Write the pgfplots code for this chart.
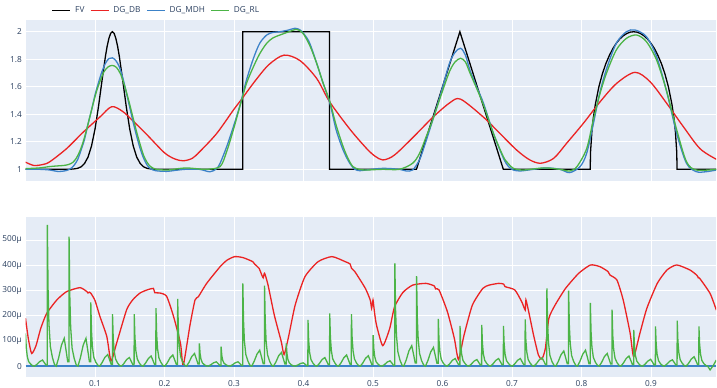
\documentclass[border=0pt]{standalone}
\usepackage{fontspec}
\setmainfont{Open Sans}
\usepackage{pgfplots}
\pgfplotsset{compat=1.18}
\usepackage{pgfplotstable}
\definecolor{bgc}{HTML}{E5ECF6}
\definecolor{tickc}{HTML}{2A3F5F}
\definecolor{cred}{RGB}{235,35,35}
\definecolor{cblue}{RGB}{60,130,200}
\definecolor{cgreen}{RGB}{75,180,70}

\pgfplotstableread{
x y
0 1
0.06 1
0.065 1.001
0.07 1.003
0.075 1.007
0.08 1.018
0.085 1.043
0.09 1.089
0.095 1.170
0.10 1.292
0.105 1.455
0.11 1.642
0.115 1.821
0.1175 1.895
0.12 1.952
0.1225 1.988
0.125 2.0
0.1275 1.988
0.13 1.952
0.1325 1.895
0.135 1.821
0.14 1.642
0.145 1.455
0.15 1.292
0.155 1.170
0.16 1.089
0.165 1.043
0.17 1.018
0.175 1.007
0.18 1.003
0.185 1.001
0.19 1
0.3125 1
0.3125 2
0.4375 2
0.4375 1
0.5625 1
0.625 2
0.6875 1
0.8125 1
0.813 1.126
0.815 1.28
0.817 1.373
0.82 1.475
0.825 1.6
0.83 1.694
0.835 1.768
0.84 1.827
0.845 1.877
0.85 1.916
0.855 1.947
0.86 1.970
0.865 1.987
0.87 1.997
0.875 2
0.88 1.997
0.885 1.987
0.89 1.970
0.895 1.947
0.9 1.916
0.905 1.877
0.91 1.827
0.915 1.768
0.92 1.694
0.925 1.6
0.93 1.475
0.933 1.373
0.935 1.28
0.937 1.126
0.9375 1
0.994 1
}\fv

\pgfplotstableread{
x y
0 1.052
0.012 1.028
0.025 1.035
0.035 1.055
0.059 1.15
0.083 1.27
0.107 1.38
0.124 1.455
0.14 1.42
0.155 1.35
0.175 1.25
0.20 1.12
0.215 1.075
0.227 1.062
0.24 1.08
0.251 1.13
0.275 1.26
0.299 1.43
0.311 1.51
0.33 1.64
0.35 1.76
0.372 1.83
0.395 1.79
0.419 1.66
0.4377 1.49
0.467 1.29
0.491 1.15
0.503 1.095
0.514 1.068
0.527 1.09
0.539 1.14
0.563 1.26
0.5865 1.38
0.6106 1.484
0.626 1.51
0.6587 1.38
0.6827 1.26
0.7067 1.14
0.725 1.07
0.741 1.044
0.76 1.08
0.7787 1.19
0.8026 1.334
0.8266 1.49
0.8506 1.625
0.877 1.705
0.8986 1.637
0.9225 1.48
0.9465 1.31
0.9705 1.15
0.994 1.073
}\dgdb

\pgfplotstableread{
x y
0 1.0
0.02 1.0
0.035 0.995
0.047 0.984
0.058 0.99
0.065 1.005
0.07 1.03
0.075 1.07
0.08 1.14
0.085 1.22
0.09 1.33
0.095 1.43
0.10 1.54
0.105 1.63
0.11 1.71
0.115 1.77
0.12 1.805
0.125 1.81
0.13 1.79
0.135 1.745
0.14 1.665
0.145 1.56
0.15 1.45
0.155 1.34
0.16 1.24
0.165 1.15
0.17 1.08
0.175 1.03
0.18 1.005
0.187 0.99
0.203 0.985
0.215 0.992
0.23 1.0
0.25 1.0
0.2655 0.982
0.275 1.005
0.28 1.044
0.2895 1.165
0.2991 1.31
0.3087 1.467
0.318 1.65
0.328 1.807
0.337 1.916
0.347 1.976
0.356 1.995
0.366 2.0
0.378 2.012
0.3877 2.025
0.395 2.013
0.402 1.975
0.409 1.916
0.419 1.77
0.4283 1.625
0.438 1.48
0.447 1.286
0.457 1.14
0.4665 1.044
0.474 1.0
0.481 0.99
0.49 0.995
0.514 1.007
0.538 1.0
0.5475 0.988
0.557 0.995
0.567 1.07
0.576 1.2
0.586 1.36
0.598 1.56
0.61 1.77
0.618 1.85
0.626 1.88
0.633 1.83
0.6395 1.72
0.649 1.60
0.659 1.48
0.6733 1.26
0.6877 1.08
0.695 1.02
0.702 0.995
0.712 0.988
0.731 1.0
0.75 1.01
0.769 1.0
0.783 0.976
0.798 1.02
0.8074 1.116
0.817 1.33
0.826 1.55
0.836 1.73
0.85 1.916
0.8646 2.0
0.877 2.013
0.8934 1.964
0.908 1.82
0.922 1.576
0.937 1.26
0.951 1.044
0.965 0.983
0.98 0.983
0.994 0.995
}\dgmdh

\pgfplotstableread{
x y
0 1.005
0.02 1.01
0.035 1.02
0.047 1.025
0.055 1.028
0.062 1.035
0.068 1.05
0.073 1.08
0.078 1.13
0.083 1.20
0.088 1.29
0.093 1.39
0.098 1.49
0.103 1.58
0.108 1.65
0.113 1.71
0.119 1.745
0.125 1.755
0.131 1.74
0.137 1.69
0.143 1.60
0.149 1.49
0.155 1.37
0.16 1.27
0.165 1.18
0.17 1.10
0.175 1.05
0.18 1.02
0.188 1.0
0.205 0.995
0.22 1.005
0.232 1.01
0.245 1.005
0.26 1.0
0.28 1.02
0.2895 1.13
0.299 1.286
0.309 1.467
0.318 1.625
0.328 1.746
0.337 1.84
0.347 1.916
0.356 1.955
0.366 1.976
0.378 1.998
0.39 2.017
0.399 1.99
0.409 1.90
0.419 1.77
0.428 1.63
0.438 1.49
0.447 1.32
0.457 1.165
0.464 1.08
0.471 1.02
0.48 1.0
0.49 0.995
0.514 1.0
0.538 1.0
0.557 1.044
0.567 1.116
0.576 1.23
0.586 1.36
0.598 1.54
0.61 1.71
0.618 1.78
0.626 1.807
0.633 1.78
0.6395 1.70
0.649 1.59
0.659 1.467
0.6733 1.26
0.6877 1.09
0.695 1.04
0.702 1.007
0.716 0.995
0.746 1.01
0.769 1.0
0.783 0.988
0.7935 1.02
0.8074 1.15
0.817 1.36
0.826 1.54
0.836 1.70
0.85 1.867
0.8646 1.952
0.8794 1.976
0.8934 1.928
0.908 1.795
0.922 1.576
0.937 1.286
0.951 1.056
0.965 0.995
0.994 1.0
}\dgrl

\pgfplotstableread{
x y
0 190
0.004 110
0.0088 50
0.015 80
0.022 150
0.0305 209
0.045 262
0.059 295
0.0783 311
0.088 296
0.09 290
0.092 293
0.094 289
0.1 260
0.1072 196
0.117 117
0.123 20
0.131 90
0.1456 224
0.155 265
0.165 290
0.175 302
0.184 308
0.186 291
0.193 290
0.203 277
0.213 197
0.223 90
0.227 4
0.2367 163
0.2439 262
0.2487 275
0.2607 328
0.28 394
0.29 420
0.301 434
0.313 430
0.327 414
0.3302 403
0.336 388
0.34 361
0.342 350
0.344 368
0.349 321
0.358 202
0.368 97
0.372 46
0.378 110
0.388 242
0.402 354
0.421 414
0.441 434
0.46 414
0.467 405
0.469 388
0.474 374
0.489 308
0.496 262
0.498 229
0.5 262
0.502 216
0.505 163
0.514 81
0.524 149
0.531 235
0.543 292
0.557 321
0.576 328
0.588 318
0.59 306
0.595 302
0.607 216
0.617 110
0.623 26
0.631 123
0.643 242
0.658 308
0.667 321
0.681 328
0.688 325
0.69 315
0.704 302
0.714 255
0.719 222
0.72 262
0.724 216
0.731 123
0.738 44
0.743 28
0.748 70
0.753 189
0.762 242
0.777 308
0.796 368
0.813 401
0.8266 394
0.838 375
0.841 361
0.851 341
0.86 262
0.87 130
0.875 37
0.884 130
0.894 229
0.909 328
0.923 381
0.937 401
0.956 381
0.966 360
0.968 350
0.97 348
0.985 288
0.994 222
}\errdb

\pgfplotstableread{
x y
0 0
0.994 0
}\errmdh

\pgfplotstableread{
x y
0 130
0.0012 72
0.0025 39
0.0045 18
0.0075 8
0.0105 1
0.013 0
0.0165 7
0.0205 18
0.0245 24
0.0275 12
0.0295 4
0.03125 4
0.03145 560
0.03245 308
0.03375 168
0.03575 78
0.03875 34
0.04175 6
0.04425 0
0.04775 33
0.05175 83
0.05575 110
0.05875 55
0.06075 17
0.0625 17
0.0627 513
0.0637 282
0.065 154
0.067 72
0.07 31
0.073 5
0.0755 0
0.079 33
0.083 83
0.087 110
0.09 55
0.092 17
0.09375 17
0.09395 253
0.09495 139
0.09625 76
0.09825 35
0.10125 15
0.10425 3
0.10675 0
0.11025 14
0.11425 35
0.11825 46
0.12125 23
0.12325 7
0.125 7
0.1252 206
0.1262 113
0.1275 62
0.1295 29
0.1325 12
0.1355 2
0.138 0
0.1415 10
0.1455 26
0.1495 34
0.1525 17
0.1545 5
0.15625 5
0.15645 206
0.15745 113
0.15875 62
0.16075 29
0.16375 12
0.16675 2
0.16925 0
0.17275 12
0.17675 30
0.18075 40
0.18375 20
0.18575 6
0.1875 6
0.1877 230
0.1887 127
0.19 69
0.192 32
0.195 14
0.198 2
0.2005 0
0.204 13
0.208 33
0.212 44
0.215 22
0.217 7
0.21875 7
0.21895 266
0.21995 146
0.22125 80
0.22325 37
0.22625 16
0.22925 3
0.23175 0
0.23525 15
0.23925 38
0.24325 50
0.24625 25
0.24825 8
0.25 8
0.2502 90
0.2512 50
0.2525 27
0.2545 13
0.2575 5
0.2605 1
0.263 0
0.2665 5
0.2705 13
0.2745 17
0.2775 9
0.2795 3
0.28125 3
0.28145 77
0.28245 42
0.28375 23
0.28575 11
0.28875 5
0.29175 1
0.29425 0
0.29775 5
0.30175 13
0.30575 17
0.30875 9
0.31075 3
0.3125 3
0.3127 328
0.3137 180
0.315 98
0.317 46
0.32 20
0.323 3
0.3255 0
0.329 19
0.333 47
0.337 63
0.34 32
0.342 9
0.34375 9
0.34395 319
0.34495 175
0.34625 96
0.34825 45
0.35125 19
0.35425 3
0.35675 0
0.36025 16
0.36425 41
0.36825 54
0.37125 27
0.37325 8
0.375 8
0.3752 90
0.3762 50
0.3775 27
0.3795 13
0.3825 5
0.3855 1
0.388 0
0.3915 4
0.3955 10
0.3995 13
0.4025 7
0.4045 2
0.40625 2
0.40645 183
0.40745 101
0.40875 55
0.41075 26
0.41375 11
0.41675 2
0.41925 0
0.42275 10
0.42675 26
0.43075 34
0.43375 17
0.43575 5
0.4375 5
0.4377 209
0.4387 115
0.44 63
0.442 29
0.445 13
0.448 2
0.4505 0
0.454 13
0.458 33
0.462 44
0.465 22
0.467 7
0.46875 7
0.46895 206
0.46995 113
0.47125 62
0.47325 29
0.47625 12
0.47925 2
0.48175 0
0.48525 12
0.48925 31
0.49325 41
0.49625 21
0.49825 6
0.5 6
0.5002 123
0.5012 68
0.5025 37
0.5045 17
0.5075 7
0.5105 1
0.513 0
0.5165 6
0.5205 16
0.5245 21
0.5275 11
0.5295 3
0.53125 3
0.53145 407
0.53245 224
0.53375 122
0.53575 57
0.53875 24
0.54175 4
0.54425 0
0.54775 24
0.55175 61
0.55575 81
0.55875 41
0.56075 12
0.5625 12
0.5627 357
0.5637 196
0.565 107
0.567 50
0.57 21
0.573 4
0.5755 0
0.579 22
0.583 56
0.587 74
0.59 37
0.592 11
0.59375 11
0.59395 187
0.59495 103
0.59625 56
0.59825 26
0.60125 11
0.60425 2
0.60675 0
0.61025 9
0.61425 23
0.61825 30
0.62125 15
0.62325 5
0.625 5
0.6252 159
0.6262 87
0.6275 48
0.6295 22
0.6325 10
0.6355 2
0.638 0
0.6415 8
0.6455 20
0.6495 26
0.6525 13
0.6545 4
0.65625 4
0.65645 163
0.65745 90
0.65875 49
0.66075 23
0.66375 10
0.66675 2
0.66925 0
0.67275 9
0.67675 23
0.68075 30
0.68375 15
0.68575 5
0.6875 5
0.6877 159
0.6887 87
0.69 48
0.692 22
0.695 10
0.698 2
0.7005 0
0.704 9
0.708 23
0.712 30
0.715 15
0.717 5
0.71875 5
0.71895 185
0.71995 102
0.72125 56
0.72325 26
0.72625 11
0.72925 2
0.73175 0
0.73525 10
0.73925 25
0.74325 33
0.74625 17
0.74825 5
0.75 5
0.7502 308
0.7512 169
0.7525 92
0.7545 43
0.7575 18
0.7605 3
0.763 0
0.7665 18
0.7705 45
0.7745 60
0.7775 30
0.7795 9
0.78125 9
0.78145 299
0.78245 164
0.78375 90
0.78575 42
0.78875 18
0.79175 3
0.79425 0
0.79775 19
0.80175 47
0.80575 63
0.80875 32
0.81075 9
0.8125 9
0.8127 251
0.8137 138
0.815 75
0.817 35
0.82 15
0.823 3
0.8255 0
0.829 15
0.833 38
0.837 50
0.84 25
0.842 8
0.84375 8
0.84395 224
0.84495 123
0.84625 67
0.84825 31
0.85125 13
0.85425 2
0.85675 0
0.86025 12
0.86425 30
0.86825 40
0.87125 20
0.87325 6
0.875 6
0.8752 144
0.8762 79
0.8775 43
0.8795 20
0.8825 9
0.8855 1
0.888 0
0.8915 8
0.8955 20
0.8995 27
0.9025 14
0.9045 4
0.90625 4
0.90645 157
0.90745 86
0.90875 47
0.91075 22
0.91375 9
0.91675 2
0.91925 0
0.92275 8
0.92675 19
0.93075 25
0.93375 13
0.93575 4
0.9375 4
0.9377 180
0.9387 99
0.94 54
0.942 25
0.945 11
0.948 2
0.9505 0
0.954 11
0.958 28
0.962 37
0.965 19
0.967 6
0.96875 6
0.96895 157
0.96995 86
0.97125 47
0.97325 22
0.97625 9
0.97925 2
0.9815 0
0.985 -15
0.989 0
0.994 24
}\errrl

\pgfplotsset{
  plotlystyle/.style={
    scale only axis,
    width=690.5bp,
    axis background/.style={fill=bgc},
    axis line style={draw=none},
    major tick length=0pt,
    grid=major,
    major grid style={white, line width=0.9bp},
    tick label style={font=\fontsize{8.3}{10}\selectfont, text=tickc, inner sep=0pt},
    xmin=0, xmax=0.9935,
    xtick={0.1,0.2,0.3,0.4,0.5,0.6,0.7,0.8,0.9},
    yticklabel shift=3.5bp,
    xticklabel shift=4bp,
    clip=true,
  },
  curve/.style={line width=1.3bp, no markers},
}

\begin{document}
\begin{tikzpicture}
\begin{axis}[plotlystyle,
  at={(25.5bp,-181bp)}, anchor=south west,
  height=161.5bp,
  ymin=0.915, ymax=2.089,
  ytick={1,1.2,1.4,1.6,1.8,2},
  yticklabels={1,1.2,1.4,1.6,1.8,2},
  xticklabels={},
  legend columns=4,
  legend cell align=left,
  legend image code/.code={\draw[#1, line width=1.5bp] (0bp,0bp) -- (18bp,0bp);},
  legend style={at={(0.038,1.057)}, anchor=west, draw=none, fill=none,
    inner sep=0pt, outer sep=0pt,
    font=\fontsize{8.3}{10}\selectfont, text=tickc,
    nodes={inner sep=0pt},
    /tikz/every odd column/.append style={column sep=4bp},
    /tikz/every even column/.append style={column sep=5.5bp}},
]
\addplot[curve, black] table {\fv};
\addlegendentry{FV}
\addplot[curve, cred, smooth] table {\dgdb};
\addlegendentry{DG\_DB}
\addplot[curve, cblue, smooth] table {\dgmdh};
\addlegendentry{DG\_MDH}
\addplot[curve, cgreen, smooth] table {\dgrl};
\addlegendentry{DG\_RL}
\end{axis}

\begin{axis}[plotlystyle,
  at={(25.5bp,-376.7bp)}, anchor=south west,
  height=159.7bp,
  ymin=-42, ymax=591,
  ytick={0,100,200,300,400,500},
  yticklabels={0,100μ,200μ,300μ,400μ,500μ},
  xticklabels={0.1,0.2,0.3,0.4,0.5,0.6,0.7,0.8,0.9},
]
\addplot[curve, cred, smooth, tension=0.35] table {\errdb};
\addplot[curve, cblue] table {\errmdh};
\addplot[curve, cgreen] table {\errrl};
\end{axis}
\pgfresetboundingbox
\path[use as bounding box] (0bp,0bp) rectangle (717bp,-388bp);
\end{tikzpicture}
\end{document}
